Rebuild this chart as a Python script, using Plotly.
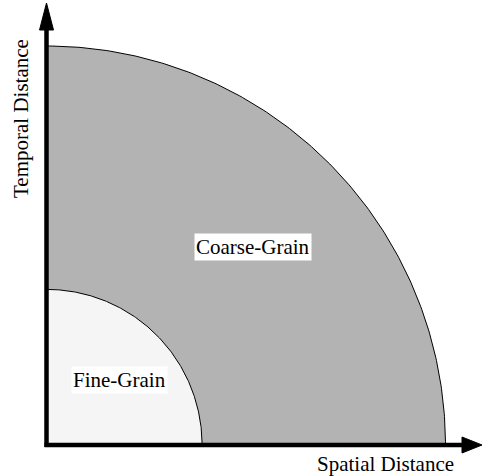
import numpy as np
import plotly.graph_objects as go

# Data
regions = ["Coarse-Grain", "Fine-Grain"]
radii = [1.0, 0.39]            # relative radius of each quarter-circle region
fills = ["#b3b3b3", "#f5f5f5"]
label_pos = [(0.5175, 0.4975), (0.182, 0.164)]
axis_titles = ["Spatial Distance", "Temporal Distance"]

S = 399.0          # pixels per unit
OX, OY = 46.5, 445.0  # origin in pixels
W, H = 482, 476

def px_x(p):
    return (p - OX) / S

def px_y(p):
    return (OY - p) / S

fig = go.Figure()
theta = np.linspace(0, np.pi / 2, 200)
for name, r, c in zip(regions, radii, fills):
    xs = np.concatenate([[0], r * np.cos(theta), [0]])
    ys = np.concatenate([[0], r * np.sin(theta), [0]])
    fig.add_trace(go.Scatter(x=xs, y=ys, mode="lines", fill="toself",
                             fillcolor=c, line=dict(color="black", width=1),
                             hoverinfo="skip", showlegend=False, name=name))

shapes = [
    # axis lines
    dict(type="line", xref="x", yref="y", x0=px_x(OX), y0=px_y(OY + 2),
         x1=px_x(OX), y1=px_y(28), line=dict(color="black", width=4.5)),
    dict(type="line", xref="x", yref="y", x0=px_x(OX - 2), y0=px_y(OY),
         x1=px_x(465), y1=px_y(OY), line=dict(color="black", width=4.5)),
    # arrowheads
    dict(type="path", xref="x", yref="y",
         path=f"M {px_x(OX-7)},{px_y(30)} L {px_x(OX)},{px_y(3)} L {px_x(OX+7)},{px_y(30)} Z",
         fillcolor="black", line=dict(color="black", width=1)),
    dict(type="path", xref="x", yref="y",
         path=f"M {px_x(462)},{px_y(OY-8)} L {px_x(482)},{px_y(OY)} L {px_x(462)},{px_y(OY+8)} Z",
         fillcolor="black", line=dict(color="black", width=1)),
]

annotations = []
for name, (lx, ly) in zip(regions, label_pos):
    annotations.append(dict(x=lx, y=ly, xref="x", yref="y", text=name,
                            showarrow=False, bgcolor="white", borderpad=1,
                            font=dict(family="Liberation Serif", size=21, color="black")))
annotations.append(dict(x=px_x(385), y=px_y(464), xref="x", yref="y",
                        text=axis_titles[0], showarrow=False,
                        font=dict(family="Liberation Serif", size=21, color="black")))
annotations.append(dict(x=px_x(21), y=px_y(119), xref="x", yref="y",
                        text=axis_titles[1], showarrow=False, textangle=-90,
                        font=dict(family="Liberation Serif", size=21, color="black")))

fig.update_layout(
    width=W, height=H,
    margin=dict(l=0, r=0, t=0, b=0),
    paper_bgcolor="white", plot_bgcolor="white",
    xaxis=dict(range=[px_x(0), px_x(W)], visible=False, fixedrange=True),
    yaxis=dict(range=[px_y(H), px_y(0)], visible=False, fixedrange=True),
    shapes=shapes, annotations=annotations,
)

fig.write_html("out.html", config={"displayModeBar": False},
               post_script="document.body.style.margin='0';document.body.style.overflow='hidden';")
